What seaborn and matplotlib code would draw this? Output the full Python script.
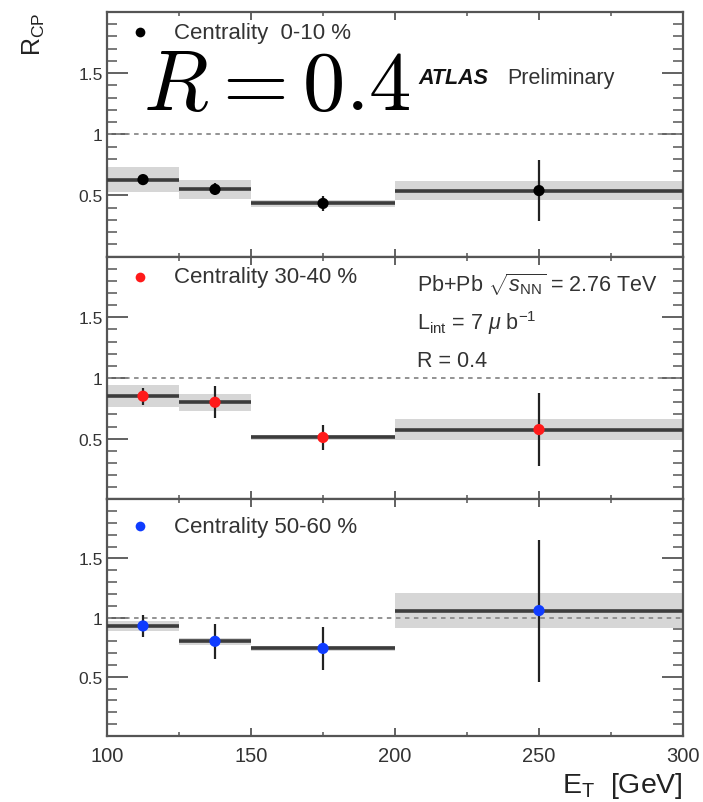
import numpy as np
import pandas as pd
import matplotlib
matplotlib.use("Agg")
import matplotlib.pyplot as plt
import seaborn as sns
from matplotlib.ticker import MultipleLocator, FixedLocator, NullFormatter

# Jet E_T bins [GeV]
bin_lo = [100, 125, 150, 200]
bin_hi = [125, 150, 200, 300]

centralities = ["0-10", "30-40", "50-60"]
centrality_labels = ["Centrality  0-10 %", "Centrality 30-40 %", "Centrality 50-60 %"]
marker_colors = ["#000000", "#ff1a1a", "#0f3cff"]

# R_CP values, statistical and systematic uncertainties per centrality class
rcp_0_10 = [0.63, 0.55, 0.435, 0.54]
stat_0_10 = [0.04, 0.05, 0.06, 0.25]
syst_0_10 = [0.10, 0.08, 0.03, 0.08]

rcp_30_40 = [0.85, 0.80, 0.51, 0.575]
stat_30_40 = [0.07, 0.13, 0.10, 0.30]
syst_30_40 = [0.09, 0.07, 0.02, 0.09]

rcp_50_60 = [0.93, 0.80, 0.74, 1.06]
stat_50_60 = [0.09, 0.15, 0.18, 0.60]
syst_50_60 = [0.04, 0.03, 0.02, 0.15]

y_ticklabels = ["0.5", "1", "1.5"]
x_ticklabels = ["100", "150", "200", "250", "300"]

rows = []
for cent, vals, stats, systs in zip(
        centralities,
        [rcp_0_10, rcp_30_40, rcp_50_60],
        [stat_0_10, stat_30_40, stat_50_60],
        [syst_0_10, syst_30_40, syst_50_60]):
    for lo, hi, v, st, sy in zip(bin_lo, bin_hi, vals, stats, systs):
        rows.append(dict(centrality=cent, lo=lo, hi=hi, center=0.5 * (lo + hi),
                         rcp=v, stat=st, syst=sy))
df = pd.DataFrame(rows)

sns.set_theme(style="ticks")
plt.rcParams["font.family"] = ["Liberation Sans", "DejaVu Sans"]
plt.rcParams["mathtext.fontset"] = "custom"
plt.rcParams["mathtext.rm"] = "Liberation Sans"
plt.rcParams["mathtext.it"] = "Liberation Sans:italic"
plt.rcParams["mathtext.bf"] = "Liberation Sans:bold"

text_col = "#333333"
axis_col = "#555555"

fig = plt.figure(figsize=(7.03, 8.03), dpi=100)
gs = fig.add_gridspec(3, 1, height_ratios=[245, 243, 237], hspace=0,
                      left=107 / 703, right=683 / 703,
                      top=1 - 13 / 803, bottom=1 - 737 / 803)
axes = [fig.add_subplot(gs[i]) for i in range(3)]

label_y = [0.918, 0.918, 0.886]

for i, (ax, cent) in enumerate(zip(axes, centralities)):
    d = df[df["centrality"] == cent]
    # systematic bands
    for _, r in d.iterrows():
        ax.fill_between([r["lo"], r["hi"]], r["rcp"] - r["syst"], r["rcp"] + r["syst"],
                        color="#d6d6d6", lw=0, zorder=1)
    ax.axhline(1.0, color="#8a8a8a", lw=1.3, ls=(0, (2.5, 2.5)), zorder=2)
    # bin widths
    ax.hlines(d["rcp"], d["lo"], d["hi"], color="#3c3c3c", lw=2.6, zorder=3)
    # statistical errors
    ax.errorbar(d["center"], d["rcp"], yerr=d["stat"], fmt="none",
                ecolor="#222222", elinewidth=1.6, capsize=0, zorder=4)
    sns.scatterplot(data=d, x="center", y="rcp", color=marker_colors[i], s=65,
                    edgecolor="none", linewidth=0, legend=False, ax=ax, zorder=5)

    ax.set_xlim(100, 300)
    ax.set_ylim(0, 2)
    ax.set_xlabel("")
    ax.set_ylabel("")
    ax.xaxis.set_major_locator(MultipleLocator(50))
    ax.xaxis.set_minor_locator(MultipleLocator(25))
    ax.yaxis.set_major_locator(FixedLocator([0.5, 1.0, 1.5]))
    ax.yaxis.set_minor_locator(MultipleLocator(0.1))
    ax.set_yticklabels(y_ticklabels)
    ax.tick_params(axis="y", which="major", direction="in", length=15, width=1.3,
                   left=True, right=True, color=axis_col, labelsize=12.5,
                   labelcolor=text_col, pad=3)
    ax.tick_params(axis="y", which="minor", direction="in", length=7, width=1.1,
                   left=True, right=True, color=axis_col)
    ax.tick_params(axis="x", which="major", direction="in", length=6, width=1.3,
                   top=True, bottom=True, color=axis_col, labelsize=14.5,
                   labelcolor=text_col, pad=7)
    ax.tick_params(axis="x", which="minor", direction="in", length=3, width=1.1,
                   top=True, bottom=True, color=axis_col)
    for s in ax.spines.values():
        s.set_color(axis_col)
        s.set_linewidth(1.6)
    if i < 2:
        ax.xaxis.set_major_formatter(NullFormatter())
    else:
        ax.set_xticks([100, 150, 200, 250, 300])
        ax.set_xticklabels(x_ticklabels)

    # centrality label with marker
    ax.plot([0.057], [label_y[i]], "o", transform=ax.transAxes,
            color=marker_colors[i], ms=7, mec="none", clip_on=False)
    ax.text(0.117, label_y[i], centrality_labels[i], transform=ax.transAxes,
            ha="left", va="center", fontsize=16, color=text_col)

# large jet-radius label
fig.text(143 / 703, 1 - 110 / 803, r"$R = 0.4$", fontsize=61, color="black",
         math_fontfamily="cm", ha="left", va="baseline")

fig.text(418 / 703, 1 - 84 / 803, "ATLAS", fontsize=15.5, fontweight="bold",
         fontstyle="italic", color="#111111", ha="left", va="baseline")
fig.text(507 / 703, 1 - 84 / 803, "Preliminary", fontsize=15.5, color=text_col,
         ha="left", va="baseline")

fig.text(417 / 703, 1 - 292 / 803, r"Pb+Pb $\sqrt{s_{\mathrm{NN}}}$ = 2.76 TeV",
         fontsize=15.5, color=text_col, ha="left", va="baseline")
fig.text(417 / 703, 1 - 330 / 803, r"L$_{\mathrm{int}}$ = 7 $\mu$ b$^{\mathrm{-1}}$",
         fontsize=15.5, color=text_col, ha="left", va="baseline")
fig.text(417 / 703, 1 - 367 / 803, "R = 0.4", fontsize=15.5, color=text_col,
         ha="left", va="baseline")

fig.text(34 / 703, 1 - 12 / 803, r"R$_{\mathrm{CP}}$", rotation=90, fontsize=18,
         color="#222222", ha="center", va="top")
fig.text(683 / 703, 1 - 793 / 803, r"E$_{\mathrm{T}}$  [GeV]", fontsize=20.5,
         color="#222222", ha="right", va="baseline")

fig.savefig("out.png", dpi=100)
